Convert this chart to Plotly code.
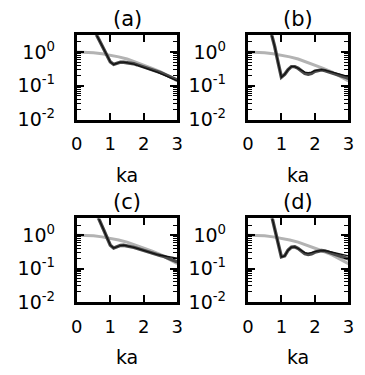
import plotly.graph_objects as go

# ---- data ----
ka_gray = [0.0, 0.25, 0.5, 0.75, 1.0, 1.25, 1.5, 1.75, 2.0, 2.25, 2.5, 2.75, 3.0]
gray_vals = [1.0, 0.99, 0.955, 0.89, 0.81, 0.72, 0.62, 0.51, 0.42, 0.33, 0.26, 0.19, 0.14]

ka = [0.5, 0.6, 0.7, 0.8, 0.9, 1.0, 1.1, 1.2, 1.3, 1.4, 1.5, 1.6, 1.7, 1.8, 1.9,
      2.0, 2.1, 2.2, 2.3, 2.4, 2.5, 2.6, 2.7, 2.8, 2.9, 3.0]

a_dark = [4.8, 3.0, 1.95, 1.29, 0.81, 0.51, 0.43, 0.46, 0.50, 0.50, 0.49, 0.47, 0.45, 0.42, 0.39,
          0.36, 0.34, 0.32, 0.29, 0.27, 0.245, 0.224, 0.204, 0.186, 0.166, 0.148]
a_black = [4.8, 3.0, 1.95, 1.29, 0.81, 0.51, 0.43, 0.46, 0.50, 0.50, 0.49, 0.46, 0.44, 0.41, 0.38,
           0.35, 0.33, 0.30, 0.28, 0.255, 0.23, 0.21, 0.19, 0.17, 0.155, 0.14]

b_dark = [20, 8.9, 3.8, 1.48, 0.50, 0.18, 0.22, 0.30, 0.37, 0.37, 0.33, 0.275, 0.234, 0.219, 0.234,
          0.27, 0.29, 0.295, 0.28, 0.263, 0.245, 0.23, 0.214, 0.195, 0.182, 0.166]
b_black = [20, 8.9, 3.8, 1.48, 0.50, 0.18, 0.22, 0.30, 0.37, 0.37, 0.33, 0.29, 0.255, 0.245, 0.255,
           0.28, 0.295, 0.30, 0.29, 0.275, 0.26, 0.245, 0.23, 0.215, 0.20, 0.19]

c_dark = [7.1, 4.0, 2.4, 1.45, 0.85, 0.50, 0.41, 0.45, 0.49, 0.50, 0.48, 0.457, 0.43, 0.40, 0.37,
          0.35, 0.32, 0.30, 0.28, 0.26, 0.245, 0.23, 0.21, 0.19, 0.174, 0.158]
c_black = [7.1, 4.0, 2.4, 1.45, 0.85, 0.50, 0.41, 0.45, 0.49, 0.50, 0.48, 0.457, 0.43, 0.40, 0.37,
           0.35, 0.32, 0.30, 0.28, 0.26, 0.25, 0.24, 0.23, 0.22, 0.215, 0.205]

d_dark = [22, 10, 4.2, 1.58, 0.56, 0.224, 0.24, 0.355, 0.436, 0.447, 0.40, 0.33, 0.28, 0.263, 0.275,
          0.31, 0.33, 0.347, 0.34, 0.316, 0.295, 0.275, 0.25, 0.234, 0.214, 0.195]
d_black = [22, 10, 4.2, 1.58, 0.56, 0.224, 0.24, 0.355, 0.436, 0.447, 0.40, 0.345, 0.30, 0.285, 0.295,
           0.32, 0.34, 0.35, 0.345, 0.33, 0.315, 0.30, 0.285, 0.27, 0.255, 0.24]

panel_titles = ["(a)", "(b)", "(c)", "(d)"]
x_ticks = [0, 1, 2, 3]
y_ticks = [0.01, 0.1, 1]
y_ticktext = ["10<sup>-2</sup>", "10<sup>-1</sup>", "10<sup>0</sup>"]
y_minor = [0.02, 0.03, 0.04, 0.05, 0.06, 0.07, 0.08, 0.09,
           0.2, 0.3, 0.4, 0.5, 0.6, 0.7, 0.8, 0.9, 2, 3]

panels = [(a_dark, a_black), (b_dark, b_black), (c_dark, c_black), (d_dark, d_black)]

OFF = 8  # page body margin
W, H = 365 - OFF, 375 - OFF


def px_x(v):
    return (v - OFF) / W


def px_y(v):
    return 1 - (v - OFF) / H


xdoms = [[px_x(73), px_x(177)], [px_x(250), px_x(354)]]
ydoms = [[px_y(123), px_y(36)], [px_y(311), px_y(225)]]
title_y = [px_y(19), px_y(208)]

FONT = "DejaVu Sans"
fig = go.Figure()
layout = dict(width=W, height=H, margin=dict(l=0, r=0, t=0, b=0),
              paper_bgcolor="white", plot_bgcolor="white", showlegend=False,
              font=dict(family=FONT, color="black", size=17))
annotations = []
for i, (dark, black) in enumerate(panels):
    n = i + 1
    xs = "x" if n == 1 else f"x{n}"
    ys = "y" if n == 1 else f"y{n}"
    row, col = divmod(i, 2)
    fig.add_trace(go.Scatter(x=ka_gray, y=gray_vals, mode="lines", xaxis=xs, yaxis=ys,
                             line=dict(color="#b3b3b3", width=3)))
    fig.add_trace(go.Scatter(x=ka, y=dark, mode="lines", xaxis=xs, yaxis=ys,
                             line=dict(color="#4a4a4a", width=3.4)))
    fig.add_trace(go.Scatter(x=ka, y=black, mode="lines", xaxis=xs, yaxis=ys,
                             line=dict(color="#111111", width=1.3)))
    xkey = "xaxis" if n == 1 else f"xaxis{n}"
    ykey = "yaxis" if n == 1 else f"yaxis{n}"
    layout[xkey] = dict(domain=xdoms[col], anchor=ys, range=[0, 3], tickmode="array",
                        tickvals=x_ticks, ticks="inside", ticklen=7, tickwidth=1.5,
                        tickcolor="black", showline=True, linewidth=3, linecolor="black",
                        mirror="ticks", showgrid=False, zeroline=False,
                        ticklabelstandoff=6,
                        tickfont=dict(size=18, family=FONT),
                        title=dict(text="ka", font=dict(size=19, family=FONT), standoff=16))
    layout[ykey] = dict(domain=ydoms[row], anchor=xs, type="log", range=[-2, 0.5],
                        tickmode="array", tickvals=y_ticks, ticktext=y_ticktext,
                        ticks="inside", ticklen=7, tickwidth=1.5, tickcolor="black",
                        showline=True, linewidth=3, linecolor="black", mirror="ticks",
                        showgrid=False, zeroline=False, ticklabelstandoff=15,
                        tickfont=dict(size=19, family=FONT),
                        minor=dict(tickmode="array", tickvals=y_minor, ticks="inside",
                                   ticklen=4, tickwidth=1.2, tickcolor="black", showgrid=False))
    annotations.append(dict(text=panel_titles[i], x=sum(xdoms[col]) / 2, y=title_y[row],
                            xref="paper", yref="paper", showarrow=False,
                            xanchor="center", yanchor="middle",
                            font=dict(size=21, family=FONT)))
layout["annotations"] = annotations
fig.update_layout(**layout)
fig.write_html("out.html")
